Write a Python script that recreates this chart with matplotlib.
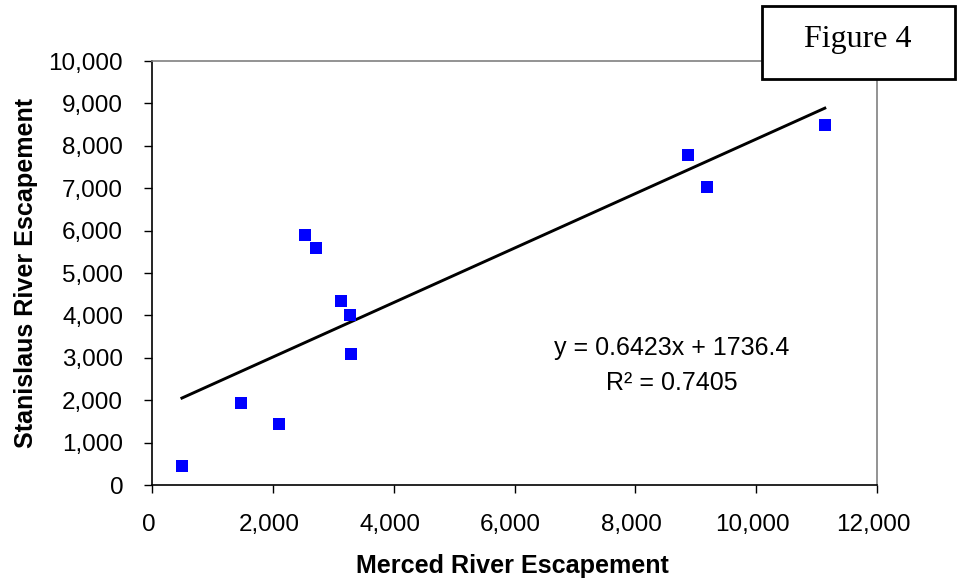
import matplotlib
matplotlib.use("Agg")
import matplotlib.pyplot as plt
import matplotlib.transforms as mtransforms
from matplotlib.patches import Rectangle
from matplotlib.ticker import FuncFormatter, MultipleLocator

# Data
merced = [490, 1465, 2105, 2525, 2712, 3121, 3265, 3287, 8871, 9186, 11135]
stanislaus = [440, 1927, 1431, 5903, 5590, 4347, 4017, 3090, 7783, 7028, 8491]
slope = 0.6423
intercept = 1736.4
r_squared = 0.7405
x_label = "Merced River Escapement"
y_label = "Stanislaus River Escapement"
figure_label = "Figure 4"

plt.rcParams['font.family'] = ['Liberation Sans', 'DejaVu Sans']

fig = plt.figure(figsize=(9.58, 5.79), dpi=100)
ax = fig.add_axes([0.159, 0.1623, 0.7565, 0.7323])

ax.plot(merced, stanislaus, linestyle='none', marker='s', markersize=8.2,
        color='#0000FF', markeredgewidth=0, zorder=3)

xmin, xmax = min(merced), max(merced)
ax.plot([xmin, xmax], [slope * xmin + intercept, slope * xmax + intercept],
        color='black', linewidth=2.1, zorder=2)

ax.set_xlim(0, 12000)
ax.set_ylim(0, 10000)
ax.xaxis.set_major_locator(MultipleLocator(2000))
ax.yaxis.set_major_locator(MultipleLocator(1000))
fmt = FuncFormatter(lambda v, p: f"{int(v):,}")
ax.xaxis.set_major_formatter(fmt)
ax.yaxis.set_major_formatter(fmt)

ax.tick_params(axis='both', direction='out', length=6, width=1, labelsize=17.5,
               color='black', pad=15)
for lab in ax.get_xticklabels():
    lab.set_transform(lab.get_transform() + mtransforms.ScaledTranslation(-0.04, 0, fig.dpi_scale_trans))

for s in ['left', 'bottom']:
    ax.spines[s].set_color('black')
    ax.spines[s].set_linewidth(1.2)
for s in ['top', 'right']:
    ax.spines[s].set_color('#808080')
    ax.spines[s].set_linewidth(1.2)

ax.set_xlabel(x_label, fontsize=18.1, fontweight='bold', va='baseline')
ax.xaxis.set_label_coords(0.4975, -0.2075)
ax.set_ylabel(y_label, fontsize=18.1, fontweight='bold', va='baseline')
ax.yaxis.set_label_coords(-0.1646, 0.5)

ax.text(8606, 3231, f"y = {slope}x + {intercept}", fontsize=18,
        ha='center', va='center')
ax.text(8606, 2406, f"R\u00b2 = {r_squared}", fontsize=18,
        ha='center', va='center')

rect = Rectangle((0.795, 0.8636), 0.2019, 0.1264, transform=fig.transFigure,
                 facecolor='white', edgecolor='black', linewidth=2, zorder=10)
fig.patches.append(rect)
fig.text(0.8956, 0.931, figure_label, fontsize=23, family='Liberation Serif',
         ha='center', va='center', zorder=11)

fig.savefig("out.png", dpi=100)
